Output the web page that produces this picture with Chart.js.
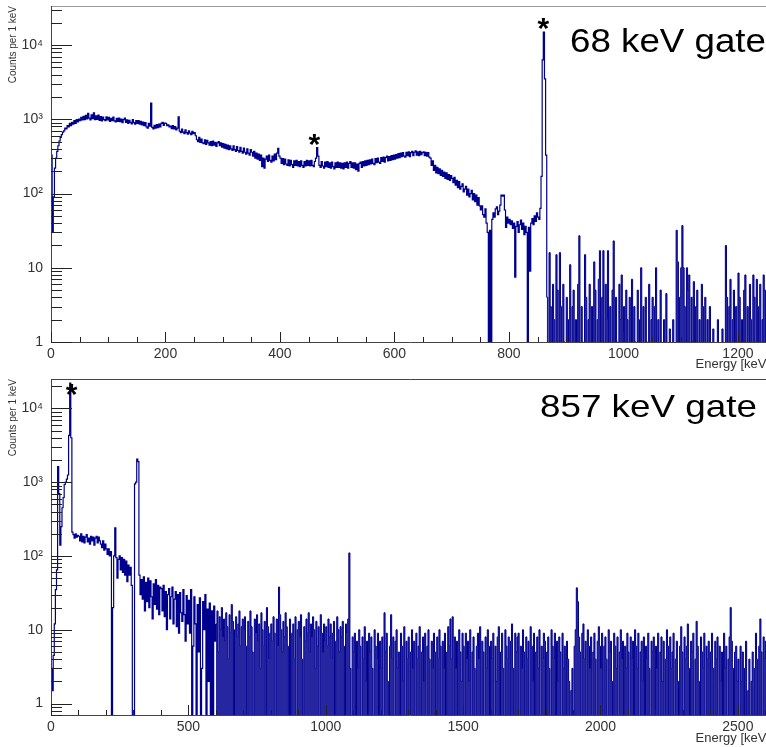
<!DOCTYPE html>
<html>
<head>
<meta charset="utf-8">
<script src="https://cdn.jsdelivr.net/npm/chart.js@4.4.0/dist/chart.umd.min.js"></script>
<style>
  body { margin: 0; background: #fff; overflow: hidden; width: 766px; height: 747px; position: relative; }
  .panel { position: absolute; left: 0; width: 772px; }
  #topPanel { top: 0; height: 372px; }
  #bottomPanel { top: 372px; height: 375px; }
</style>
</head>
<body>
<div class="panel" id="topPanel"><canvas id="chartTop"></canvas></div>
<div class="panel" id="bottomPanel"><canvas id="chartBottom"></canvas></div>
<script>
// ---- 68 keV gate spectrum, 2 keV bins starting at 0 keV ----
const topBinWidth = 2;
const topCounts = [
  // 0-48
  330, 30, 90, 220, 300, 370, 440, 510, 570, 620, 670, 700, 760, 740, 820, 790, 880, 820, 910, 860, 960, 880, 990, 920, 1010,
  // 50-98
  960, 1060, 980, 1100, 990, 1130, 1010, 1200, 1040, 980, 1150, 1020, 1220, 990, 1110, 1000, 1140, 970, 1090, 950, 1070, 990, 960, 1080, 980,
  // 100-148
  1060, 940, 1030, 960, 1070, 950, 920, 1030, 940, 1040, 930, 1010, 900, 990, 1040, 910, 980, 880, 970, 910, 870, 990, 900, 860, 960,
  // 150-198
  880, 960, 860, 940, 840, 920, 820, 900, 790, 760, 880, 810, 1650, 780, 740, 830, 760, 850, 770, 860, 790, 880, 910, 830, 890,
  // 200-248
  880, 820, 840, 790, 810, 750, 820, 740, 800, 720, 760, 1080, 690, 660, 740, 670, 640, 720, 660, 630, 700, 650, 620, 690, 640,
  // 250-298
  660, 600, 530, 500, 570, 490, 540, 480, 470, 530, 460, 520, 480, 450, 500, 440, 510, 450, 490, 430, 480, 500, 440, 480, 420,
  // 300-348
  470, 410, 460, 400, 450, 390, 440, 400, 380, 440, 390, 370, 430, 380, 360, 420, 370, 350, 410, 360, 340, 400, 350, 330, 390,
  // 350-398
  360, 320, 370, 300, 350, 290, 340, 280, 330, 230, 300, 220, 290, 320, 270, 330, 280, 265, 320, 275, 340, 285, 350, 405, 320,
  // 400-448
  300, 255, 295, 245, 290, 250, 240, 285, 235, 280, 245, 225, 275, 240, 280, 235, 270, 230, 275, 240, 225, 270, 235, 280, 240,
  // 450-498
  275, 235, 280, 240, 230, 270, 300, 415, 320, 240, 225, 270, 235, 220, 265, 230, 270, 225, 260, 220, 265, 230, 215, 260, 225,
  // 500-548
  265, 225, 260, 220, 255, 215, 260, 225, 265, 220, 255, 270, 225, 260, 220, 260, 210, 250, 200, 255, 265, 225, 270, 235, 275,
  // 550-598
  240, 280, 245, 285, 250, 290, 255, 245, 295, 260, 300, 265, 255, 305, 270, 310, 265, 305, 320, 275, 315, 280, 325, 285, 330,
  // 600-648
  290, 335, 300, 345, 305, 350, 315, 355, 320, 310, 360, 325, 365, 315, 355, 370, 325, 360, 375, 330, 365, 325, 370, 335, 355,
  // 650-698
  365, 325, 360, 320, 355, 310, 300, 240, 275, 205, 240, 190, 225, 185, 215, 175, 205, 170, 195, 160, 190, 155, 180, 150, 175,
  // 700-748
  160, 140, 165, 130, 150, 120, 145, 115, 125, 135, 105, 115, 125, 95, 115, 90, 100, 110, 82, 100, 78, 95, 70, 88, 68,
  // 750-798
  60, 68, 52, 48, 62, 40, 30, 0, 32, 0, 45, 55, 48, 62, 66, 52, 58, 70, 95, 92, 95, 60, 35, 48, 40,
  // 800-848
  45, 38, 43, 34, 40, 7.5, 36, 42, 30, 38, 44, 33, 40, 28, 36, 30, 0, 35, 9, 40, 46, 38, 50, 42, 55,
  // 850-864 (857 keV line)
  48, 45, 63, 170, 6300, 15000, 3500, 330,
  // 866-914
  4, 0, 16, 3, 0, 6, 2, 0, 15, 5, 0, 16, 3, 0, 6, 1, 0, 4, 0, 2, 11, 0, 3, 5, 0,
  // 916-964
  2, 0, 6, 27, 0, 3, 1, 0, 15, 4, 0, 2, 6, 0, 3, 0, 12, 5, 0, 2, 7, 17, 0, 4, 17,
  // 966-1014
  0, 6, 2, 17, 0, 3, 0, 5, 23, 0, 4, 1, 0, 6, 2, 8, 0, 3, 0, 5, 2, 0, 4, 0, 7,
  // 1016-1064
  0, 3, 1, 0, 5, 2, 0, 10, 0, 3, 0, 4, 1, 0, 6, 0, 2, 4, 0, 3, 10, 0, 2, 0, 5,
  // 1066-1114
  0, 0, 2, 0, 4.5, 0, 0, 1.5, 0, 0, 2, 0, 0, 32, 12, 0, 4, 10, 37, 10, 3, 0, 10, 5, 8,
  // 1116-1164
  0, 4, 1, 6.5, 0, 3, 5, 0, 2, 0, 6, 3, 0, 4, 0, 2, 0, 3, 0, 0, 1.5, 0, 0, 0, 2,
  // 1166-1214
  0, 0, 0, 1.5, 0, 0, 20, 4, 0, 3, 7, 0, 2, 5, 0, 3, 0, 8.5, 4, 0, 2, 0, 5, 8, 0,
  // 1216-1254
  3, 0, 6, 2, 0, 8, 4, 0, 7, 0, 3, 6, 0, 2, 8, 0, 5, 3, 0, 6
];

// ---- 857 keV gate spectrum, 4 keV bins starting at 0 keV ----
const bottomBinWidth = 4;
const bottomCounts = [
  // 0-96
  3, 1.5, 4.5, 12, 35, 65, 1630, 700, 140, 250, 450, 620, 930, 1000, 1100, 1250, 4300, 22000, 4000, 210, 195, 175, 200, 180, 190,
  // 100-196
  185, 160, 200, 155, 185, 150, 180, 195, 155, 175, 145, 185, 160, 180, 140, 175, 185, 150, 180, 160, 145, 130, 160, 120, 145,
  // 200-296
  125, 105, 125, 100, 115, 0, 20, 100, 240, 95, 50, 90, 100, 65, 95, 60, 90, 55, 85, 45, 75, 55, 70, 40, 0,
  // 300-396
  0, 950, 1000, 2050, 1900, 55, 30, 48, 26, 52, 18, 44, 24, 50, 20, 46, 28, 14, 42, 22, 48, 19, 40, 16, 38,
  // 400-496
  36, 18, 40, 15, 33, 10, 30, 36, 14, 28, 38, 12, 26, 33, 11, 30, 9, 32, 17, 13, 35, 16, 7, 29, 12,
  // 500-596
  25, 9, 35, 0, 6, 28, 12, 0, 22, 5, 27, 0, 3, 24, 10, 30, 0, 19, 2, 23, 0, 18, 0, 21, 7,
  // 600-696
  12, 18, 5, 15, 10, 20, 8, 14, 7, 17, 11, 4, 16, 9, 22, 13, 0, 10, 15, 8, 12, 18, 6, 11, 14,
  // 700-796
  10, 15, 6, 0, 13, 8, 18, 11, 5, 0, 14, 9, 16, 7, 12, 3, 17, 10, 6, 13, 0, 20, 11, 4, 9,
  // 800-896
  12, 7, 15, 9, 0, 14, 6, 38, 16, 10, 5, 13, 8, 17, 11, 6, 0, 14, 0, 9, 12, 4, 15, 0, 10,
  // 900-996
  13, 8, 16, 4, 0, 11, 7, 14, 9, 17, 5, 12, 8, 15, 10, 3, 13, 6, 11, 0, 16, 9, 5, 12, 7,
  // 1000-1096
  11, 6, 14, 8, 12, 4, 9, 13, 0, 7, 15, 10, 5, 11, 8, 13, 6, 0, 12, 9, 14, 110, 3, 0, 8,
  // 1100-1196
  5, 9, 0, 7, 3, 10, 6, 0, 8, 4, 11, 2, 7, 0, 9, 5, 8, 3, 0, 10, 6, 4, 9, 0, 7,
  // 1200-1296
  3, 8, 0, 17, 5, 9, 2, 0, 6, 16, 4, 8, 0, 7, 10, 3, 5, 0, 9, 6, 2, 11, 0, 7, 4,
  // 1300-1396
  8, 0, 5, 10, 3, 7, 0, 9, 4, 6, 11, 0, 5, 8, 2, 9, 0, 6, 10, 4, 0, 7, 3, 9, 5,
  // 1400-1496
  0, 8, 4, 10, 6, 0, 7, 3, 9, 0, 5, 11, 6, 14, 4, 15, 0, 8, 3, 7, 0, 10, 5, 2, 9,
  // 1500-1596
  6, 0, 9, 4, 7, 2, 10, 0, 5, 8, 3, 0, 6, 9, 4, 11, 0, 7, 5, 0, 8, 3, 10, 6, 0,
  // 1600-1696
  7, 4, 9, 0, 6, 2, 8, 11, 0, 5, 9, 3, 0, 10, 6, 4, 8, 0, 7, 12, 3, 0, 9, 5, 8,
  // 1700-1796
  9, 0, 6, 3, 10, 5, 0, 8, 4, 7, 0, 11, 6, 2, 9, 0, 5, 8, 3, 10, 0, 6, 4, 9, 7,
  // 1800-1896
  0, 5, 8, 3, 0, 10, 6, 4, 9, 0, 7, 2, 8, 5, 0, 9, 3, 6, 0, 7, 4, 2, 0, 1.5, 3,
  // 1900-1996
  0, 6, 10, 37, 24, 8, 5, 0, 9, 12, 4, 7, 0, 10, 6, 3, 8, 0, 5, 9, 4, 0, 7, 11, 6,
  // 2000-2096
  3, 9, 0, 6, 8, 4, 0, 10, 5, 7, 2, 0, 9, 6, 3, 8, 0, 5, 10, 4, 7, 0, 6, 3, 9,
  // 2100-2196
  5, 0, 8, 4, 7, 0, 10, 6, 3, 9, 0, 5, 7, 2, 8, 0, 6, 4, 9, 3, 0, 7, 5, 8, 0,
  // 2200-2296
  6, 3, 9, 0, 5, 8, 2, 7, 0, 4, 10, 6, 0, 8, 3, 5, 9, 0, 4, 7, 2, 0, 6, 11, 5,
  // 2300-2396
  0, 8, 4, 6, 12, 3, 0, 7, 5, 9, 0, 4, 13, 6, 2, 0, 8, 5, 3, 9, 0, 6, 4, 7, 0,
  // 2400-2496
  5, 9, 3, 0, 7, 4, 8, 0, 6, 2, 5, 0, 9, 3, 6, 0, 4, 8, 20, 7, 3, 0, 5, 6, 2,
  // 2500-2596
  4, 0, 6, 2, 5, 0, 3, 7, 0, 1.5, 4, 0, 2, 5, 0, 3, 9, 4, 0, 6, 14, 5, 0, 8, 4,
  // 2600-2612
  7, 0, 5, 9
];

// axes
const topXTicks = [0, 200, 400, 600, 800, 1000, 1200];
const bottomXTicks = [0, 500, 1000, 1500, 2000, 2500];
const yTickValues = [1, 10, 100, 1000, 10000];
const yTickLabels = ['1', '10', '10\u00b2', '10\u00b3', '10\u2074'];

// marked peaks: [energy, counts] where the asterisk sits
const topStars = [[860, 20000], [460, 550]];
const bottomStars = [[75, 18700]];

const FONT = '"Liberation Sans", Arial, Helvetica, sans-serif';
const HIST_COLOR = '#00008f';
const TINY = 0.001; // empty bin, drawn below the axis

// step points for bins [from, to); bin i starts at i*width
function histPoints(counts, width, from, to, lead) {
  const pts = [];
  if (lead) pts.push({x: from * width, y: TINY});
  for (let i = from; i < to; i++) {
    pts.push({x: i * width, y: counts[i] > 0 ? counts[i] : TINY});
  }
  const next = to < counts.length ? counts[to] : counts[to - 1];
  pts.push({x: to * width, y: next > 0 ? next : TINY});
  return pts;
}

// ROOT-like frame: ticks inside the frame, titles, labels
const rootFrame = {
  id: 'rootFrame',
  afterDatasetsDraw(chart, args, o) {
    const {ctx, chartArea: a, scales: {x, y}} = chart;
    const px = v => Math.round(v) + 0.5;
    ctx.save();
    ctx.lineWidth = 1;

    // frame
    ctx.strokeStyle = o.topColor;
    ctx.beginPath();
    ctx.moveTo(a.left, px(a.top)); ctx.lineTo(a.right, px(a.top));
    ctx.stroke();
    ctx.strokeStyle = '#444';
    ctx.beginPath();
    ctx.moveTo(px(a.left), a.top); ctx.lineTo(px(a.left), a.bottom);
    ctx.moveTo(a.left, px(a.bottom)); ctx.lineTo(a.right, px(a.bottom));
    ctx.stroke();

    // log y ticks
    ctx.strokeStyle = '#222';
    ctx.beginPath();
    for (let d = Math.floor(Math.log10(y.min)); d <= Math.ceil(Math.log10(y.max)); d++) {
      for (let m = 1; m <= 9; m++) {
        const v = m * Math.pow(10, d);
        if (v < y.min || v > y.max) continue;
        const yy = px(y.getPixelForValue(v));
        ctx.moveTo(a.left, yy);
        ctx.lineTo(a.left + (m === 1 ? 21 : 11), yy);
      }
    }
    // x ticks
    for (let v = 0; v <= x.max; v += o.xMinor) {
      const xx = px(x.getPixelForValue(v));
      const len = (v % o.xMajor === 0) ? 10 : 5;
      ctx.moveTo(xx, a.bottom);
      ctx.lineTo(xx, a.bottom - len);
    }
    ctx.stroke();

    // axis titles
    ctx.fillStyle = '#333';
    ctx.font = '10px ' + FONT;
    ctx.save();
    ctx.translate(13, a.top);
    ctx.rotate(-Math.PI / 2);
    ctx.textAlign = 'right';
    ctx.textBaseline = 'middle';
    ctx.fillText('Counts per 1 keV', 0, 0);
    ctx.restore();

    ctx.font = '13px ' + FONT;
    ctx.textAlign = 'right';
    ctx.textBaseline = 'middle';
    ctx.fillText('Energy [keV]', a.right, a.bottom + o.titleGap);

    // gate label
    ctx.fillStyle = '#000';
    ctx.save();
    ctx.font = o.gateSize + 'px ' + FONT;
    ctx.textAlign = 'left';
    ctx.textBaseline = 'alphabetic';
    ctx.translate(o.gateX, o.gateY);
    ctx.scale(o.gateStretch, 1);
    ctx.fillText(o.gateText, 0, 0);
    ctx.restore();

    // asterisks on the gated lines
    ctx.font = 'bold 30px ' + FONT;
    ctx.textAlign = 'center';
    ctx.textBaseline = 'middle';
    o.stars.forEach(([e, c]) => {
      ctx.fillText('*', x.getPixelForValue(e), y.getPixelForValue(c) + 7);
    });
    ctx.restore();
  }
};

function makeChart(id, cfg) {
  const n = cfg.counts.length;
  return new Chart(document.getElementById(id), {
    type: 'line',
    data: {
      datasets: [{
        // smooth part: plain histogram line
        data: histPoints(cfg.counts, cfg.binWidth, 0, cfg.denseFrom, true),
        stepped: true,
        borderColor: HIST_COLOR,
        borderWidth: 1.2,
        pointRadius: 0,
        fill: false
      }, {
        // sparse part: empty bins make the dense comb of lines
        data: histPoints(cfg.counts, cfg.binWidth, cfg.denseFrom, n, false),
        stepped: true,
        borderColor: HIST_COLOR,
        borderWidth: 1,
        pointRadius: 0,
        fill: 'start',
        backgroundColor: 'rgba(0, 0, 143, 0.85)'
      }]
    },
    options: {
      responsive: true,
      maintainAspectRatio: false,
      animation: false,
      parsing: false,
      normalized: true,
      layout: {padding: {left: 0, top: cfg.padTop, right: 2, bottom: 0}},
      plugins: {
        legend: {display: false},
        tooltip: {enabled: false},
        rootFrame: {
          topColor: cfg.topColor,
          xMajor: cfg.xMajor,
          xMinor: cfg.xMinor,
          titleGap: cfg.titleGap,
          gateText: cfg.gateText,
          gateX: cfg.gateX,
          gateY: cfg.gateY,
          gateSize: cfg.gateSize,
          gateStretch: cfg.gateStretch,
          stars: cfg.stars
        }
      },
      scales: {
        x: {
          type: 'linear',
          min: 0,
          max: cfg.xMax,
          grid: {display: false, drawTicks: false},
          border: {display: false},
          afterBuildTicks: s => { s.ticks = cfg.xTicks.map(v => ({value: v})); },
          afterFit: s => { s.height = cfg.xAxisHeight; s.paddingLeft = 0; s.paddingRight = 0; },
          ticks: {
            autoSkip: false,
            maxRotation: 0,
            padding: 4,
            color: '#333',
            font: {family: FONT, size: 14},
            callback: v => String(v)
          }
        },
        y: {
          type: 'logarithmic',
          min: cfg.yMin,
          max: cfg.yMax,
          grid: {display: false, drawTicks: false},
          border: {display: false},
          afterBuildTicks: s => { s.ticks = yTickValues.map(v => ({value: v})); },
          afterFit: s => { s.width = 51; s.paddingTop = 0; s.paddingBottom = 0; },
          ticks: {
            autoSkip: false,
            padding: 8,
            color: '#333',
            font: {family: FONT, size: 14},
            callback: v => yTickLabels[yTickValues.indexOf(v)] || ''
          }
        }
      }
    },
    plugins: [rootFrame]
  });
}

makeChart('chartTop', {
  counts: topCounts, binWidth: topBinWidth, denseFrom: 433,
  xMax: 1256, xTicks: topXTicks, xMajor: 200, xMinor: 50,
  yMin: 1, yMax: 33600,
  padTop: 6, xAxisHeight: 30, titleGap: 22, topColor: '#9a9a9a',
  gateText: '68 keV gate', gateX: 570, gateY: 52, gateSize: 34, gateStretch: 1.08,
  stars: topStars
});

makeChart('chartBottom', {
  counts: bottomCounts, binWidth: bottomBinWidth, denseFrom: 150,
  xMax: 2617, xTicks: bottomXTicks, xMajor: 500, xMinor: 100,
  yMin: 0.7, yMax: 25000,
  padTop: 7, xAxisHeight: 32, titleGap: 23, topColor: '#444',
  gateText: '857 keV gate', gateX: 540, gateY: 45, gateSize: 32, gateStretch: 1.15,
  stars: bottomStars
});
</script>
</body>
</html>
